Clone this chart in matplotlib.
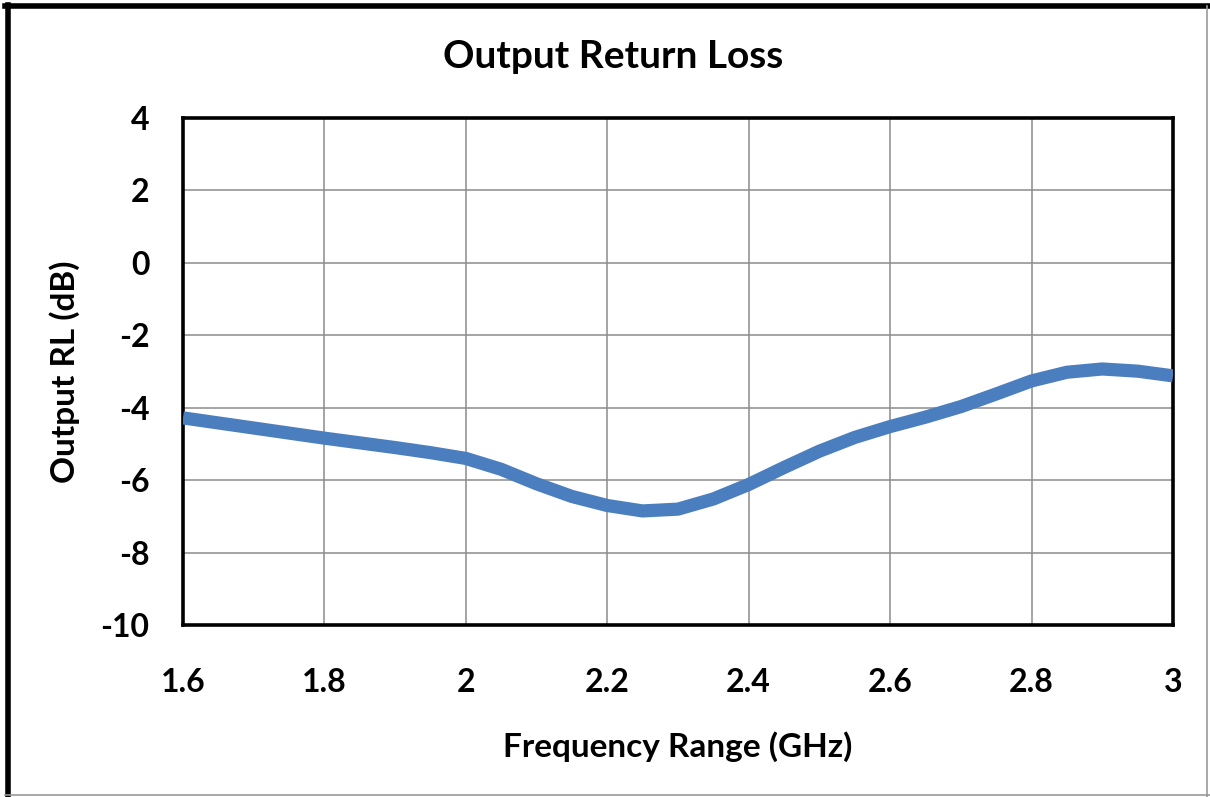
import matplotlib
matplotlib.use("Agg")
import matplotlib.pyplot as plt
from matplotlib.lines import Line2D

# frequency (GHz) and output return loss (dB)
freq = [1.6, 1.65, 1.7, 1.75, 1.8, 1.85, 1.9, 1.95, 2.0, 2.05, 2.1, 2.15, 2.2, 2.25,
        2.3, 2.35, 2.4, 2.45, 2.5, 2.55, 2.6, 2.65, 2.7, 2.75, 2.8, 2.85, 2.9, 2.95, 3.0]
rl = [-4.28, -4.42, -4.56, -4.70, -4.84, -4.97, -5.10, -5.24, -5.40, -5.70, -6.10, -6.45,
      -6.70, -6.85, -6.80, -6.52, -6.12, -5.65, -5.20, -4.82, -4.52, -4.26, -3.97, -3.62,
      -3.26, -3.02, -2.93, -2.99, -3.12]

xticks = [1.6, 1.8, 2.0, 2.2, 2.4, 2.6, 2.8, 3.0]
xtick_labels = ["1.6", "1.8", "2", "2.2", "2.4", "2.6", "2.8", "3"]
yticks = [-10, -8, -6, -4, -2, 0, 2, 4]

plt.rcParams['font.family'] = ['Lato', 'DejaVu Sans']
plt.rcParams['font.weight'] = 'bold'
plt.rcParams['axes.unicode_minus'] = False

fig = plt.figure(figsize=(12.1, 7.97), dpi=100)
ax = fig.add_axes([0.1512, 0.2158, 0.8182, 0.6361])

ax.plot(freq, rl, color="#4A7EBF", linewidth=9.5, solid_joinstyle="round",
        solid_capstyle="butt", zorder=3)

ax.set_xlim(1.6, 3.0)
ax.set_ylim(-10, 4)
ax.set_xticks(xticks)
ax.set_xticklabels(xtick_labels)
ax.set_yticks(yticks)
ax.tick_params(length=0, labelsize=23)
ax.tick_params(axis="x", pad=31)
ax.tick_params(axis="y", pad=24)
ax.grid(True, color="#8c8c8c", linewidth=1.1)
for s in ax.spines.values():
    s.set_linewidth(2.6)
    s.set_color("black")

ax.set_xlabel("Frequency Range (GHz)", fontsize=24, fontweight="bold", va="top")
ax.xaxis.set_label_coords(0.5, -0.21)
ax.set_ylabel("Output RL (dB)", fontsize=24, fontweight="bold")
ax.yaxis.set_label_coords(-0.104, 0.5)
fig.text(0.5067, 0.9285, "Output Return Loss", fontsize=28, fontweight="bold",
         ha="center", va="center")

# outer frame: heavy black on left/top, thin grey on right/bottom
fig.add_artist(Line2D([0.0062, 0.0062], [0.0, 0.9935], transform=fig.transFigure,
                      color="black", linewidth=4))
fig.add_artist(Line2D([0.004, 1.0], [0.992, 0.992], transform=fig.transFigure,
                      color="black", linewidth=4))
fig.add_artist(Line2D([0.9975, 0.9975], [0.0, 0.992], transform=fig.transFigure,
                      color="#999999", linewidth=1.2))
fig.add_artist(Line2D([0.004, 1.0], [0.0025, 0.0025], transform=fig.transFigure,
                      color="#999999", linewidth=1.2))

fig.savefig("out.png", dpi=100)
